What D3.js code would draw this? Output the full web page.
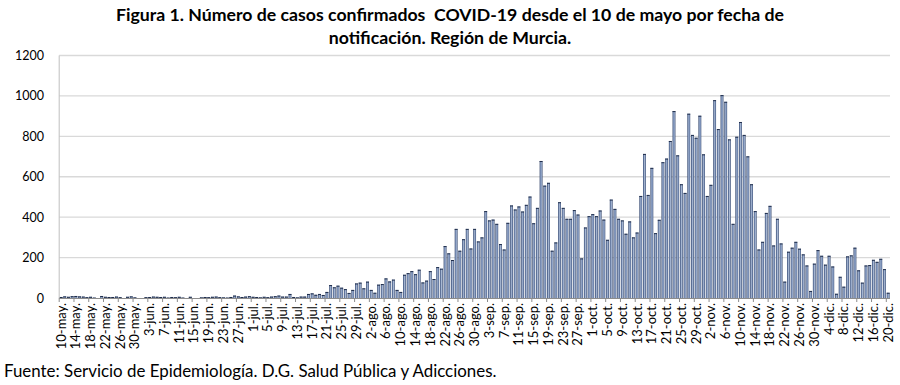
<!DOCTYPE html>
<html><head><meta charset="utf-8">
<script src="https://cdn.jsdelivr.net/npm/d3@7"></script>
<style>body{margin:0;background:#fff}svg{display:block}</style>
</head><body>
<svg id="c" width="900" height="385"></svg>
<script>
const titleLines = ["Figura 1. Número de casos confirmados  COVID-19 desde el 10 de mayo por fecha de", "notificación. Región de Murcia."];
const sourceText = "Fuente: Servicio de Epidemiología. D.G. Salud Pública y Adicciones.";
const monthNames = ["may.","jun.","jul.","ago.","sep.","oct.","nov.","dic."];
const monthDays = [31,30,31,31,30,31,30,31];
const startDay = 10, endDay = 20;
const yTicks = [0,200,400,600,800,1000,1200];
const cases = [
 5,8,6,9,10,8,7,4,6,2, 0,10,6,5,5,7,4,0,6,8,
 3,0,0,4,5,7,6,5,6,2, 5,4,6,2,0,6,0,0,3,5,
 4,6,7,4,3,2,5,12,8,5, 7,9,6,5,3,6,4,7,9,12,
 7,7,20,5,3,7,7,20,23,16, 20,15,30,64,53,61,51,44,25,40,
 72,76,48,81,40,26,66,69,97,82, 91,40,30,115,123,133,118,140,77,86,
 133,94,153,145,257,221,188,342,234,291, 342,245,342,280,300,430,384,388,367,267,
 240,372,458,438,453,428,461,502,370,446, 678,556,570,234,275,474,446,392,392,435,
 413,196,349,405,415,405,433,388,288,487, 441,392,384,318,379,300,324,505,713,510,
 644,321,387,672,690,777,925,706,563,520, 912,807,793,902,711,505,560,979,836,1004,
 971,785,367,798,871,807,701,563,430,240, 278,421,456,260,392,270,81,229,249,278,
 244,216,161,35,170,237,209,165,209,156, 21,105,56,206,211,249,137,76,161,163,
 189,179,194,143,26
];
// build category labels (day-month)
const days = [];
for (let m = 0; m < monthNames.length; m++) {
  const from = m === 0 ? startDay : 1;
  const to = m === monthNames.length - 1 ? endDay : monthDays[m];
  for (let d = from; d <= to; d++) days.push(d + "-" + monthNames[m]);
}
const data = days.map((d, i) => ({day: d, v: cases[i]}));

const svg = d3.select("#c");
const L = 59.2, R = 890, T = 55.5, B = 298;
const x = d3.scaleBand().domain(days).range([L, R]).paddingInner(0.22).paddingOuter(0.11);
const y = d3.scaleLinear().domain([0, 1200]).range([B, T]);

const defs = svg.append("defs");
const g = defs.append("linearGradient").attr("id","bar").attr("x1","0").attr("x2","1").attr("y1","0").attr("y2","0");
[["0%","#34466b"],["30%","#7489b0"],["55%","#a7b8d4"],["75%","#7489b0"],["100%","#34466b"]]
  .forEach(s => g.append("stop").attr("offset", s[0]).attr("stop-color", s[1]));

// gridlines
svg.append("g").selectAll("line").data(yTicks.filter(t => t > 0)).join("line")
  .attr("x1", L).attr("x2", R).attr("y1", d => y(d)).attr("y2", d => y(d))
  .attr("stroke", "#d9d9d9").attr("stroke-width", 1.3);

// y axis labels
svg.append("g").selectAll("text").data(yTicks).join("text")
  .attr("x", 44).attr("y", d => y(d) + 4.5).attr("text-anchor", "end")
  .attr("font-family", "Lato, 'Open Sans', sans-serif").attr("font-size", 12.5).attr("fill", "#000")
  .text(d => d);

// bars
svg.append("g").selectAll("rect").data(data).join("rect")
  .attr("x", d => x(d.day)).attr("width", x.bandwidth())
  .attr("y", d => y(d.v)).attr("height", d => B - y(d.v))
  .attr("fill", "url(#bar)");
svg.append("g").selectAll("rect").data(data.filter(d => d.v > 0)).join("rect")
  .attr("x", d => x(d.day)).attr("width", x.bandwidth())
  .attr("y", d => y(d.v)).attr("height", 1)
  .attr("fill", "#1f2d4a");

// axes lines
svg.append("line").attr("x1", L).attr("x2", L).attr("y1", T).attr("y2", B).attr("stroke", "#bfbfbf").attr("stroke-width", 1);
svg.append("line").attr("x1", L).attr("x2", R).attr("y1", B + 0.5).attr("y2", B + 0.5).attr("stroke", "#8c8c8c").attr("stroke-width", 1);

// x ticks every 4 categories at the left edge of labelled categories
const step = x.step();
const labelled = days.filter((d, i) => i % 4 === 0);
svg.append("g").selectAll("line").data(labelled).join("line")
  .attr("x1", d => x(d) + x.bandwidth()/2 - step/2).attr("x2", d => x(d) + x.bandwidth()/2 - step/2)
  .attr("y1", B).attr("y2", B + 4).attr("stroke", "#8c8c8c").attr("stroke-width", 1);

// x labels
svg.append("g").selectAll("text").data(labelled).join("text")
  .attr("transform", d => `translate(${x(d) + x.bandwidth()/2 + 4.5},${B + 5}) rotate(-90)`)
  .attr("text-anchor", "end")
  .attr("font-family", "Lato, 'Open Sans', sans-serif").attr("font-size", 13).attr("fill", "#000")
  .text(d => d);

// title
svg.append("g").selectAll("text").data(titleLines).join("text")
  .attr("x", 450).attr("y", (d, i) => 21 + i * 23).attr("text-anchor", "middle")
  .attr("font-family", "Lato, 'Open Sans', sans-serif").attr("font-weight", "bold").attr("font-size", 17.7).attr("fill", "#000")
  .attr("xml:space", "preserve").style("white-space", "pre")
  .text(d => d);

// source
svg.append("text").attr("x", 4).attr("y", 377)
  .attr("font-family", "Lato, 'Open Sans', sans-serif").attr("font-size", 16.9).attr("fill", "#000")
  .text(sourceText);
</script>
</body></html>
